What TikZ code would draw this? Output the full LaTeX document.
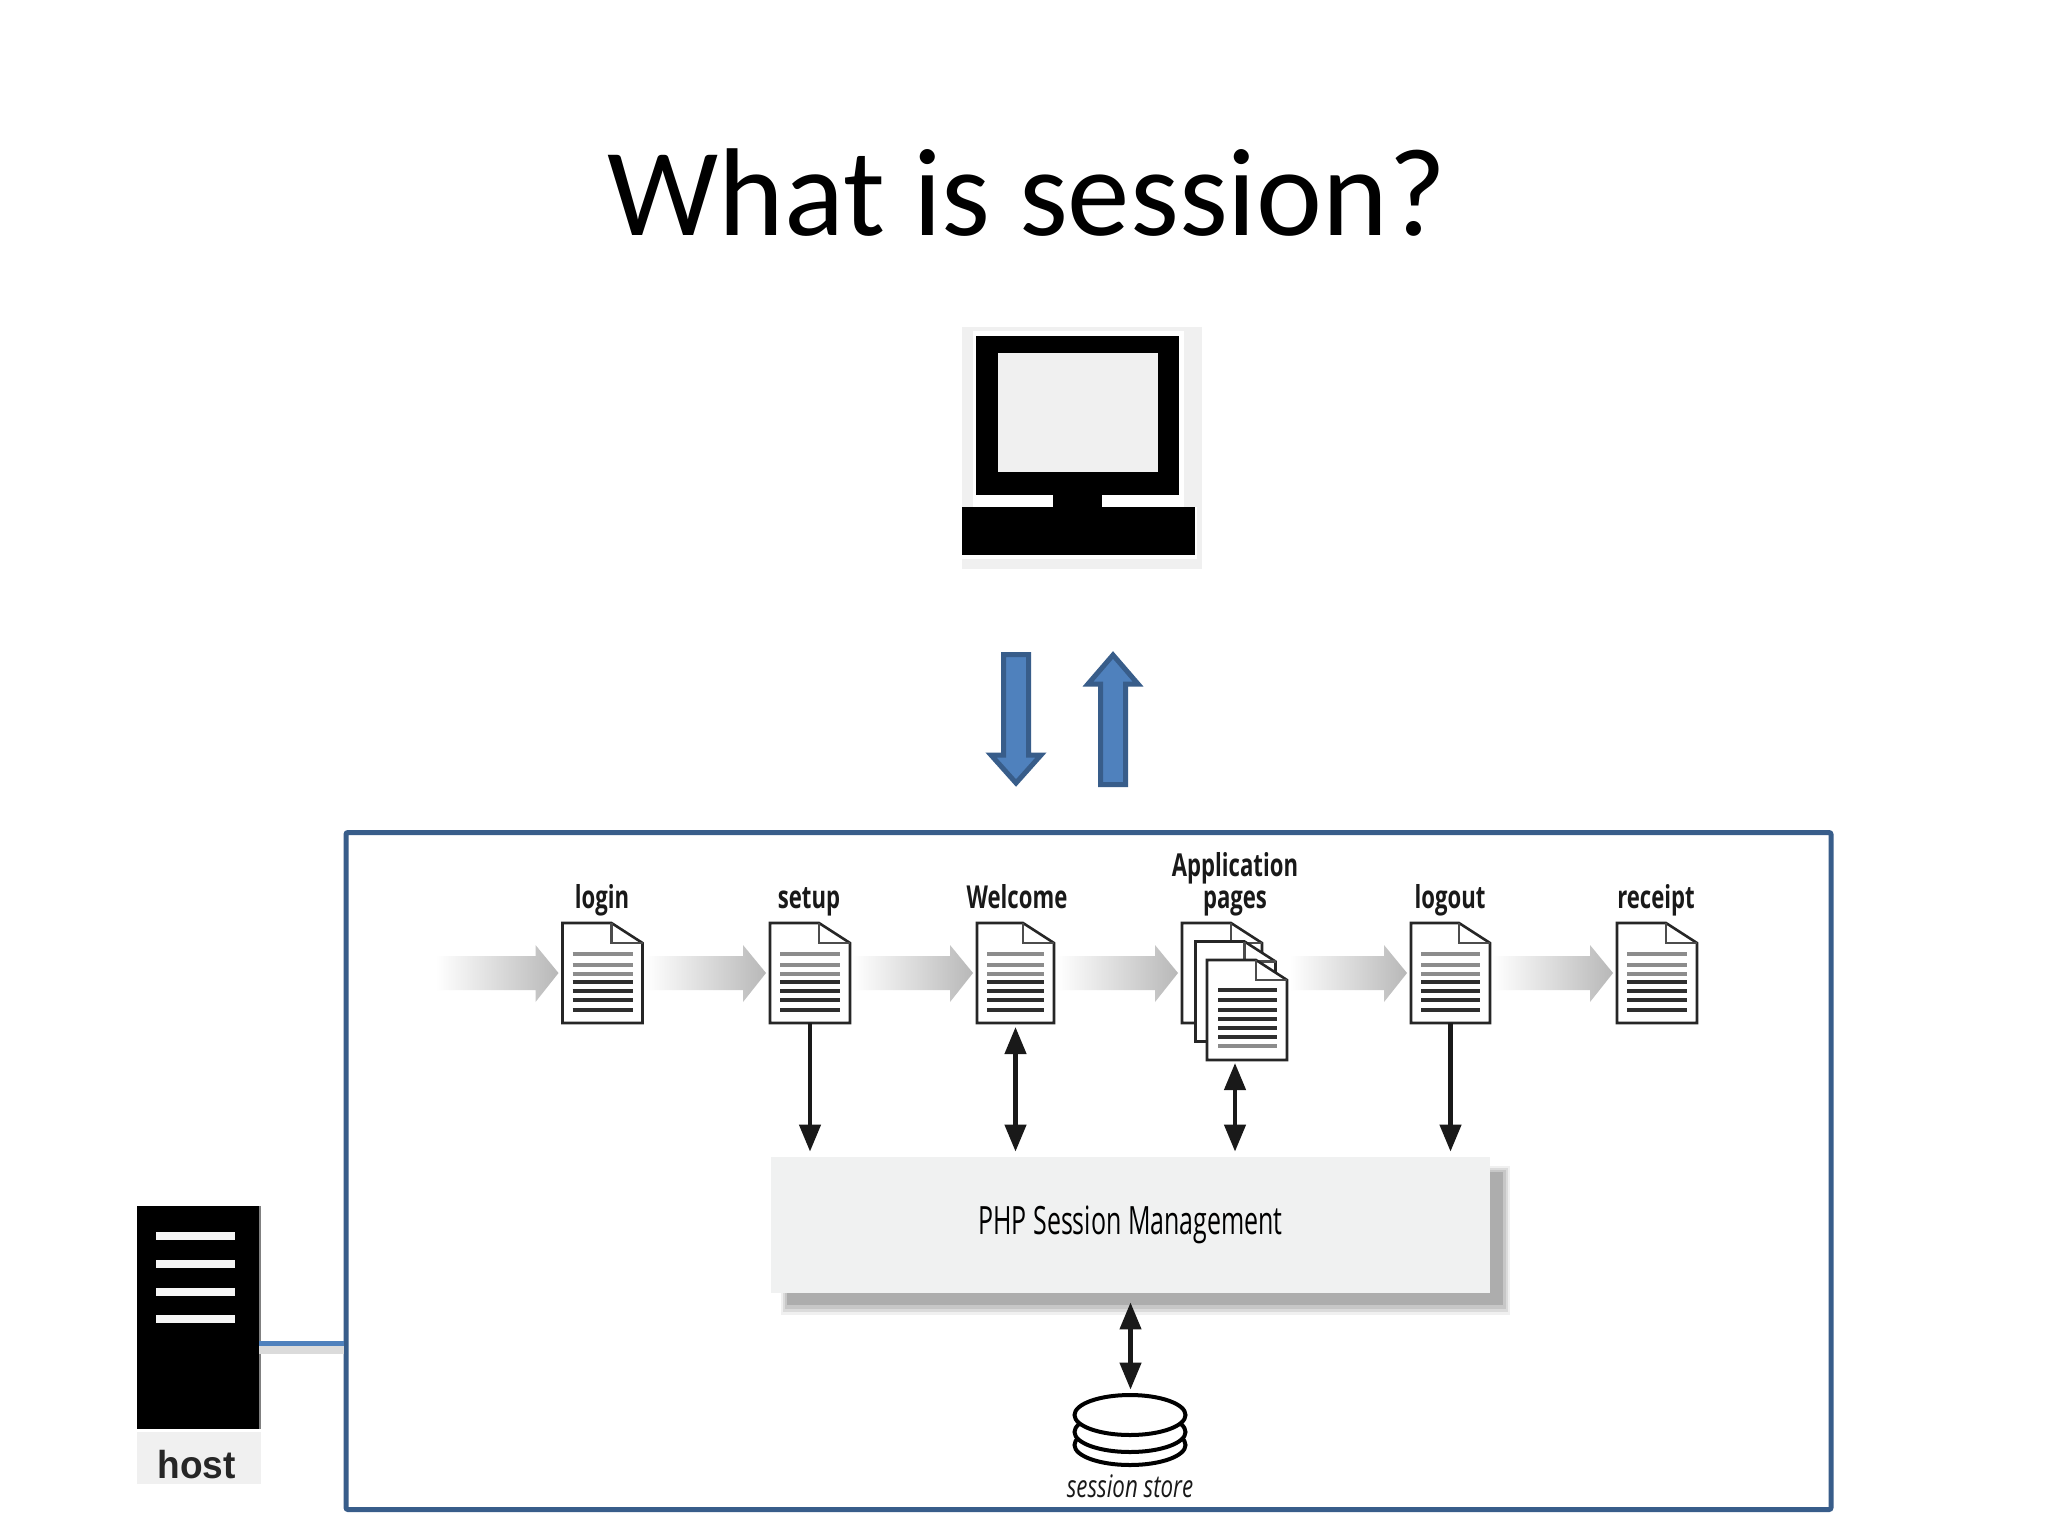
\documentclass[tikz,border=0pt]{standalone}
\usepackage{fontspec}
\usetikzlibrary{arrows.meta,calc}
\setmainfont{Open Sans}
\newfontfamily\titlefont{Carlito}
\newfontfamily\hostfont[FakeStretch=0.95]{Liberation Sans}
\newfontfamily\condreg[FakeStretch=0.64]{Open Sans}
\newfontfamily\condlab[FakeStretch=0.70]{Open Sans}
\newfontfamily\condital[FakeStretch=0.72]{Open Sans}
\definecolor{boxline}{HTML}{385D8A}
\definecolor{boxfill}{HTML}{4F81BD}
\definecolor{softgrey}{HTML}{F0F0F0}
\definecolor{phpfill}{HTML}{F0F1F1}
\tikzset{
  x=0.5pt,y=-0.5pt,
  docnode/.style={rectangle,inner sep=0pt,minimum height=50pt,outer sep=0pt},
  docline/.style={draw=black!85,line width=1.3pt,fill=white,line join=miter},
  foldline/.style={draw=black!70,line width=1.2pt},
  greyrule/.style={draw=black!45,line width=1.8pt},
  darkrule/.style={draw=black!82,line width=1.6pt},
  lbl/.style={font=\condlab\bfseries\fontsize{15.8}{18}\selectfont,text=black!90,anchor=base,inner sep=0pt},
  flowshade/.style={left color=white,right color=black!28,draw=none},
  solid tip/.style={-{Triangle[length=13.5pt,width=10.5pt]},line width=2.2pt,black!90},
  both tip/.style={{Triangle[length=13.5pt,width=10.5pt]}-{Triangle[length=13.5pt,width=10.5pt]},line width=2.2pt,black!90},
  blockarrow/.style={draw=boxline,fill=boxfill,line width=2.5pt,line join=miter},
}
% #1 name, #2 centre x, #3 centre y, #4 width in pt
\newcommand\docpage[4]{%
  \node[docnode,minimum width=#4] (#1) at (#2,#3) {};
  \draw[docline] (#1.north west) -- ($(#1.north east)+(-31,0)$) -- ($(#1.north east)+(0,20)$) -- (#1.south east) -- (#1.south west) -- cycle;
  \draw[foldline] ($(#1.north east)+(-31,0)$) -- ($(#1.north east)+(-31,20)$) -- ($(#1.north east)+(0,20)$);
}
% ruled page: name
\newcommand\ruledpage[1]{%
  \foreach \ry in {-19,-8,1}{\draw[greyrule] ($(#1.west)+(10,\ry)$) -- ($(#1.east)+(-10,\ry)$);}
  \foreach \ry in {9,18,27,37}{\draw[darkrule] ($(#1.west)+(10,\ry)$) -- ($(#1.east)+(-10,\ry)$);}
}
% gradient arrow from #1 to #2
\newcommand\flow[2]{%
  \shade[flowshade] let \p1=($(#1)+(3,0)$),\p2=($(#2)+(-4,0)$) in
   (\x1,\y2+8.5pt) -- (\x2-11.5pt,\y2+8.5pt) -- (\x2-11.5pt,\y2+14pt) -- (\x2,\y2)
   -- (\x2-11.5pt,\y2-14.5pt) -- (\x2-11.5pt,\y2-8.5pt) -- (\x1,\y2-8.5pt) -- cycle;
}
\begin{document}
\begin{tikzpicture}
\useasboundingbox (0,0) rectangle (2048,1536);
\fill[white] (0,0) rectangle (2048,1536);
% title
\node[font=\titlefont\fontsize{62.5}{70}\selectfont,anchor=base,inner sep=0pt] (title) at (1027,235) {What is session?};
% computer
\node[rectangle,fill=softgrey,inner sep=0pt,minimum width=120pt,minimum height=121pt] (computer) at (1082,448) {};
\fill[white] (973,331) rectangle (1184,507);
\fill[white] (962,507) rectangle (1197,559);
\fill[black] (976,336) rectangle (1179,495);
\fill[softgrey] (998,353) rectangle (1158,472);
\fill[black] (1053,495) rectangle (1102,508);
\fill[black] (962,507) rectangle (1195,555);
% block arrows
\draw[blockarrow] (1003.5,654.5) -- (1028.5,654.5) -- (1028.5,755) -- (1041,755) -- (1016,783) -- (991,755) -- (1003.5,755) -- cycle;
\draw[blockarrow] (1100.5,784.5) -- (1125.5,784.5) -- (1125.5,684) -- (1138,684) -- (1113,655) -- (1088,684) -- (1100.5,684) -- cycle;
% frame
\node[rectangle,draw=boxline,line width=2.5pt,rounded corners=1pt,inner sep=0pt,minimum width=742.5pt,minimum height=338.5pt] (frame) at (1088.5,1171) {};
% host
\node[rectangle,fill=black,inner sep=0pt,minimum width=61pt,minimum height=111.5pt] (server) at (198,1317.5) {};
\fill[black!50] (259,1206) rectangle (261,1429);
\foreach \ya/\yb in {1232/1240,1260/1268,1288/1296,1315/1323}{\fill[white!96!black] (156,\ya) rectangle (235,\yb);}
\node[rectangle,fill=softgrey,inner sep=0pt,minimum width=62pt,minimum height=26pt] (hostbox) at (199,1458) {};
\node[font=\hostfont\bfseries\fontsize{19.5}{24}\selectfont,text=black!85,anchor=base,inner sep=0pt] (hostlabel) at (196.5,1478) {host};
\coordinate (conn) at (300,1343);
\fill[black!14] ($(conn -| server.east)+(0,3)$) rectangle ($(conn -| frame.west)+(0,11)$);
\draw[boxfill,line width=2.5pt] (conn -| server.east) -- (conn -| frame.west);
% flow arrows
\coordinate (start) at (433,973);
\node[docnode,minimum width=40pt] (login) at (602.5,973) {};
\node[docnode,minimum width=40pt] (setup) at (810,973) {};
\node[docnode,minimum width=38.5pt] (welcome) at (1015.5,973) {};
\node[docnode,minimum width=40pt] (appa) at (1222,973) {};
\node[docnode,minimum width=40pt] (appc) at (1247,1010) {};
\node[docnode,minimum width=39.5pt] (logout) at (1450.5,973) {};
\node[docnode,minimum width=40pt] (receipt) at (1657,973) {};
\flow{start}{login.west}
\flow{login.east}{setup.west}
\flow{setup.east}{welcome.west}
\flow{welcome.east}{appa.west}
\flow{appc.east}{logout.west}
\flow{logout.east}{receipt.west}
% pages
\docpage{login}{602.5}{973}{40pt}\ruledpage{login}
\docpage{setup}{810}{973}{40pt}\ruledpage{setup}
\docpage{welcome}{1015.5}{973}{38.5pt}\ruledpage{welcome}
\docpage{logout}{1450.5}{973}{39.5pt}\ruledpage{logout}
\docpage{receipt}{1657}{973}{40pt}\ruledpage{receipt}
\docpage{appa}{1222}{973}{40pt}
\docpage{appb}{1235.5}{991.5}{40pt}
\docpage{appc}{1247}{1010}{40pt}
\foreach \ry in {-20,-10,0,9,18,27}{\draw[darkrule] ($(appc.west)+(11,\ry)$) -- ($(appc.east)+(-10,\ry)$);}
\draw[greyrule] ($(appc.west)+(11,36)$) -- ($(appc.east)+(-10,36)$);
\coordinate (app) at (1235,1059);
% labels
\node[lbl] (l1) at (602,908) {login};
\node[lbl] (l2) at (809,908) {setup};
\node[lbl] (l3) at (1017,908) {Welcome};
\node[lbl] (l4a) at (1235,876) {Application};
\node[lbl] (l4b) at (1235,908) {pages};
\node[lbl] (l5) at (1450,908) {logout};
\node[lbl] (l6) at (1656,908) {receipt};
% PHP box
\fill[black!6] (781,1166) rectangle (1510,1315);
\fill[black!14] (783,1168) rectangle (1508,1312);
\fill[black!22] (785,1170) rectangle (1506,1309);
\fill[black!32] (787,1172) rectangle (1503,1305);
\node[rectangle,fill=phpfill,inner sep=0pt,minimum width=359.5pt,minimum height=68pt,
  font=\condreg\fontsize{19.5}{22}\selectfont] (php) at (1130.5,1225) {PHP Session Management};
% store
\node[rectangle,inner sep=0pt,minimum width=55pt,minimum height=35pt] (store) at (1130,1430) {};
\foreach \cy in {1445,1432,1415}{\draw[black,line width=2pt,fill=white] (1130,\cy) ellipse [x radius=55.5,y radius=20];}
\node[font=\condital\itshape\fontsize{15.5}{18}\selectfont,anchor=base,inner sep=0pt,text=black!90] (storelabel) at (1130,1497) {session store};
% connectors
\draw[solid tip,shorten >=2.5pt] (setup.south) -- (setup.south |- php.north);
\draw[both tip,shorten >=2.5pt,shorten <=2pt] (welcome.south) -- (welcome.south |- php.north);
\draw[both tip,shorten >=2.5pt,shorten <=2pt] (app) -- (app |- php.north);
\draw[solid tip,shorten >=2.5pt] (logout.south) -- (logout.south |- php.north);
\draw[both tip,shorten >=2.5pt,shorten <=4.5pt] (php.south) -- (store.north -| php.south);
\end{tikzpicture}
\end{document}
